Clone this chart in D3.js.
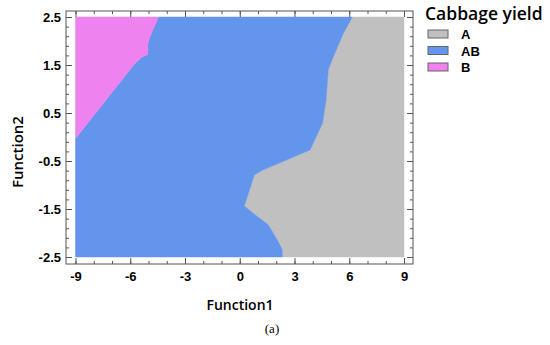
<!DOCTYPE html>
<html>
<head>
<meta charset="utf-8">
<script src="https://cdn.jsdelivr.net/npm/d3@7"></script>
<style>
  body { margin: 0; background: #fff; }
  svg { display: block; }
</style>
</head>
<body>
<svg width="550" height="345"></svg>
<script>
// groups
let groups = ["A", "AB", "B"];
let groupColors = ["#C0C0C0", "#6495ED", "#EE82EE"];

// ticks
let xMajor = [-9, -6, -3, 0, 3, 6, 9];
let xMinor = d3.range(-9, 9.01, 1);
let yMajor = [-2.5, -1.5, -0.5, 0.5, 1.5, 2.5];
let yMinor = d3.range(-2.5, 2.51, 0.2);
let xDomain = [-9, 9];
let yDomain = [-2.5, 2.5];

// B / AB border, top to left edge
let borderB = [
  [-4.46, 2.5], [-4.92, 2.09], [-5.04, 1.95], [-5.04, 1.72],
  [-5.37, 1.66], [-5.75, 1.53], [-9, -0.03]
];
// AB / A border, top to bottom edge
let borderA = [
  [6.17, 2.5], [5.68, 2.16], [5.13, 1.67], [4.85, 1.4], [4.73, 0.77],
  [4.54, 0.29], [3.85, -0.27], [1.2, -0.7], [0.8, -0.79], [0.25, -1.44],
  [0.74, -1.59], [1.56, -1.83], [2.11, -2.18], [2.33, -2.35], [2.33, -2.5]
];

let svg = d3.select("svg");
let x = d3.scaleLinear().domain(xDomain).range([75.5, 404]);
let y = d3.scaleLinear().domain(yDomain).range([257, 17]);
let frame = { left: 66, right: 413, top: 11, bottom: 264 };
let fmt = d3.formatLocale({ decimal: ".", thousands: ",", grouping: [3], currency: ["", ""], minus: "-" });

//regions
let regionA = borderA.concat([[9, -2.5], [9, 2.5]]);
let regionB = borderB.concat([[-9, 2.5]]);
let regionAB = borderB.slice().reverse()
  .concat(borderA)
  .concat([[-9, -2.5]]);
let regions = [regionA, regionAB, regionB];

let line = d3.line().x(d => x(d[0])).y(d => y(d[1]));

svg
  .selectAll("path.region")
  .data(regions)
  .enter()
  .append("path")
  .attr("class", "region")
  .attr("d", d => line(d) + "Z")
  .attr("fill", (d, i) => groupColors[i])
  .attr("stroke", (d, i) => groupColors[i])
  .attr("stroke-width", 0.5);

//axes
let tickColor = "#555";
let styleAxis = g => {
  g.select(".domain").remove();
  g.selectAll("line").attr("stroke", tickColor);
};

let bottomAxis = svg.append("g").attr("transform", "translate(0," + frame.bottom + ")");
bottomAxis.call(d3.axisBottom(x).tickValues(xMinor).tickSize(-3).tickFormat("")).call(styleAxis);
let bottomMajor = svg.append("g").attr("transform", "translate(0," + frame.bottom + ")");
bottomMajor.call(d3.axisBottom(x).tickValues(xMajor).tickSize(-6).tickFormat(fmt.format("d"))).call(styleAxis);
bottomMajor.selectAll("text").attr("y", 17).attr("dy", null);

let topAxis = svg.append("g").attr("transform", "translate(0," + frame.top + ")");
topAxis.call(d3.axisTop(x).tickValues(xMinor).tickSize(-3).tickFormat("")).call(styleAxis);
topAxis.append("g").call(d3.axisTop(x).tickValues(xMajor).tickSize(-6).tickFormat("")).call(styleAxis);

let leftAxis = svg.append("g").attr("transform", "translate(" + frame.left + ",0)");
leftAxis.call(d3.axisLeft(y).tickValues(yMinor).tickSize(-3).tickFormat("")).call(styleAxis);
let leftMajor = svg.append("g").attr("transform", "translate(" + frame.left + ",0)");
leftMajor.call(d3.axisLeft(y).tickValues(yMajor).tickSize(-6).tickPadding(5).tickFormat(fmt.format(".1f"))).call(styleAxis);

let rightAxis = svg.append("g").attr("transform", "translate(" + frame.right + ",0)");
rightAxis.call(d3.axisRight(y).tickValues(yMinor).tickSize(-3).tickFormat("")).call(styleAxis);
rightAxis.append("g").call(d3.axisRight(y).tickValues(yMajor).tickSize(-6).tickFormat("")).call(styleAxis);

svg.selectAll("g text")
  .attr("fill", "#000")
  .style("font-family", "'Liberation Sans', Arial, sans-serif")
  .style("font-weight", "bold")
  .style("font-size", "13px");

//frame
svg.append("rect")
  .attr("x", frame.left)
  .attr("y", frame.top)
  .attr("width", frame.right - frame.left)
  .attr("height", frame.bottom - frame.top)
  .attr("fill", "none")
  .attr("stroke", tickColor)
  .attr("stroke-width", 1);

//titles
let titleFont = "'Open Sans', 'Noto Sans', sans-serif";
svg.append("text")
  .attr("x", 240)
  .attr("y", 310)
  .attr("text-anchor", "middle")
  .style("font-family", titleFont)
  .style("font-weight", 600)
  .style("font-size", "14px")
  .text("Function1");

svg.append("text")
  .attr("transform", "translate(23,152) rotate(-90)")
  .attr("text-anchor", "middle")
  .style("font-family", titleFont)
  .style("font-weight", 600)
  .style("font-size", "15px")
  .text("Function2");

svg.append("text")
  .attr("x", 272)
  .attr("y", 333)
  .attr("text-anchor", "middle")
  .style("font-family", "'Liberation Serif', serif")
  .style("font-size", "13px")
  .text("(a)");

//legend
svg.append("text")
  .attr("x", 425)
  .attr("y", 20)
  .style("font-family", titleFont)
  .style("font-weight", 600)
  .style("font-size", "17.5px")
  .text("Cabbage yield");

let legend = svg
  .selectAll("g.legend")
  .data(groups)
  .enter()
  .append("g")
  .attr("class", "legend")
  .attr("transform", (d, i) => "translate(428," + (30 + i * 16.5) + ")");

legend.append("rect")
  .attr("width", 20)
  .attr("height", 8)
  .attr("fill", (d, i) => groupColors[i])
  .attr("stroke", "#666")
  .attr("stroke-width", 1);

legend.append("text")
  .attr("x", 33)
  .attr("y", 9)
  .style("font-family", "'Liberation Sans', Arial, sans-serif")
  .style("font-weight", "bold")
  .style("font-size", "13px")
  .text(d => d);
</script>
</body>
</html>
